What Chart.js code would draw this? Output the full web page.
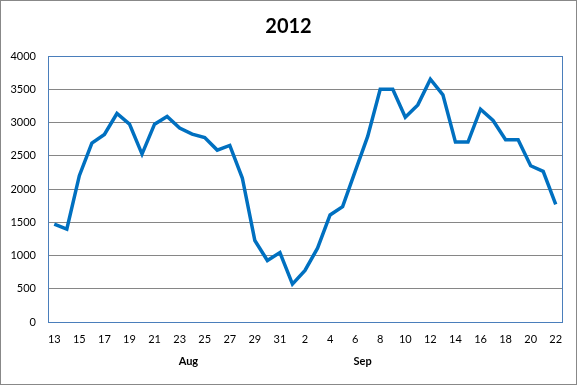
<!DOCTYPE html>
<html>
<head>
<meta charset="utf-8">
<script src="https://cdn.jsdelivr.net/npm/chart.js@4"></script>
<style>
  html, body { margin: 0; padding: 0; background: #fff; }
  #wrap { width: 577px; height: 385px; }
</style>
</head>
<body>
<div id="wrap"><canvas id="daily-chart" width="577" height="385"></canvas></div>
<script>
// Day labels, 13 Aug to 22 Sep 2012
const days = [
  13, 14, 15, 16, 17, 18, 19, 20, 21, 22, 23, 24, 25, 26, 27, 28, 29, 30, 31,
  1, 2, 3, 4, 5, 6, 7, 8, 9, 10, 11, 12, 13, 14, 15, 16, 17, 18, 19, 20, 21, 22
];

// Daily values
const values = [
  1470, 1395, 2200, 2690, 2820, 3135, 2975, 2525, 2975, 3090, 2915, 2825, 2775, 2585, 2655, 2165, 1225, 925, 1045,
  570, 775, 1110, 1610, 1735, 2265, 2790, 3500, 3500, 3080, 3265, 3650, 3415, 2705, 2705, 3200, 3030, 2740, 2740, 2350, 2265, 1770
];

// Month group labels and where they sit on the day axis (index)
const months = ["Aug", "Sep"];
const monthPos = [10.7, 24.6];

const yTicks = [0, 500, 1000, 1500, 2000, 2500, 3000, 3500, 4000];

const chartTitle = "2012";

const FONT = "Lato, 'Open Sans', sans-serif";

// Outer frame, title, plot-area box and month labels
const framePlugin = {
  id: "frame",
  beforeDraw(chart) {
    const ctx = chart.ctx;
    ctx.save();
    ctx.fillStyle = "#fff";
    ctx.fillRect(0, 0, chart.width, chart.height);
    ctx.strokeStyle = "#888888";
    ctx.lineWidth = 1;
    ctx.strokeRect(0.5, 0.5, chart.width - 1, chart.height - 1);
    ctx.fillStyle = "#000";
    ctx.font = "bold 20px " + FONT;
    ctx.textAlign = "center";
    ctx.textBaseline = "middle";
    ctx.fillText(chartTitle, chart.width / 2, 27);
    ctx.restore();
  },
  afterDraw(chart) {
    const ctx = chart.ctx;
    const a = chart.chartArea;
    const xs = chart.scales.x;
    ctx.save();
    ctx.strokeStyle = "#4A7EBB";
    ctx.lineWidth = 1;
    ctx.strokeRect(Math.round(a.left) + 0.5, Math.round(a.top) + 0.5,
      Math.round(a.right - a.left), Math.round(a.bottom - a.top));
    ctx.fillStyle = "#000";
    ctx.font = "bold 11px " + FONT;
    ctx.textAlign = "center";
    ctx.textBaseline = "middle";
    months.forEach(function (m, i) {
      ctx.fillText(m, xs.getPixelForValue(monthPos[i]), 361);
    });
    ctx.restore();
  }
};

const config = {
  type: "line",
  data: {
    labels: days,
    datasets: [
      {
        data: values,
        borderColor: "#0070C0",
        borderWidth: 3.5,
        pointRadius: 0,
        tension: 0,
        fill: false,
      },
    ],
  },
  options: {
    responsive: false,
    animation: false,
    layout: { padding: { left: 0, right: 15, top: 56, bottom: 0 } },
    plugins: {
      legend: { display: false },
      tooltip: { enabled: false },
      title: { display: false },
    },
    scales: {
      x: {
        type: "category",
        offset: true,
        grid: { display: false, drawTicks: false },
        border: { display: false },
        ticks: {
          autoSkip: false,
          maxRotation: 0,
          padding: 11,
          color: "#000",
          font: { family: FONT, size: 11 },
          callback: function (v, i) {
            return i % 2 === 0 ? days[i] : "";
          },
        },
        afterFit: function (scale) {
          scale.height = 63;
        },
      },
      y: {
        min: 0,
        max: 4000,
        grid: { color: "#868686", drawTicks: false, lineWidth: 1 },
        border: { display: false },
        afterBuildTicks: function (scale) {
          scale.ticks = yTicks.map(function (v) { return { value: v }; });
        },
        ticks: {
          padding: 12,
          color: "#000",
          font: { family: FONT, size: 11 },
          callback: function (v) {
            return String(v);
          },
        },
        afterFit: function (scale) {
          scale.width = 48;
        },
      },
    },
  },
  plugins: [framePlugin],
};

const dailyChart = new Chart(document.getElementById("daily-chart"), config);
</script>
</body>
</html>
